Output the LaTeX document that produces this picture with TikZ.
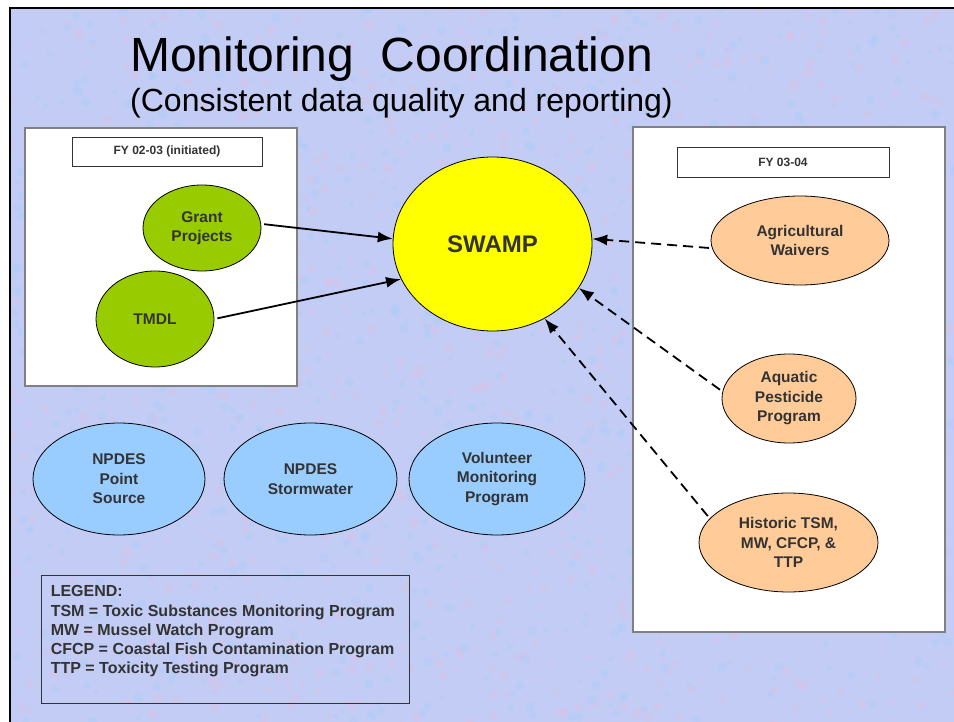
\documentclass[tikz,border=0pt]{standalone}
\usepackage{fontspec}
\setmainfont{Liberation Sans}
\usetikzlibrary{shapes.geometric,arrows.meta,positioning}

\definecolor{slide}{RGB}{194,204,244}
\definecolor{speckpink}{RGB}{226,190,228}
\definecolor{speckblue}{RGB}{170,205,250}
\definecolor{ink}{RGB}{51,51,51}
\definecolor{grantgreen}{RGB}{153,204,0}
\definecolor{swampyellow}{RGB}{255,255,0}
\definecolor{newpeach}{RGB}{255,204,153}
\definecolor{skyblue}{RGB}{153,204,255}

\tikzset{
  blob/.style={ellipse, draw=black, line width=0.8pt, inner sep=0pt,
    align=center, text=ink, font=\fontsize{15.5}{19.5}\selectfont\bfseries},
  yearbox/.style={draw=ink, line width=0.9pt, fill=white, inner sep=0pt,
    text=ink, font=\fontsize{12}{14}\selectfont\bfseries},
  feed/.style={line width=1.8pt, shorten <=3pt,
    -{Latex[length=15pt,width=11pt]}},
  later/.style={feed, dash pattern=on 10pt off 6pt}
}

\begin{document}
\begin{tikzpicture}[x=1pt, y=-1pt]
  \useasboundingbox (0,0) rectangle (954,722);
  \fill[white] (0,0) rectangle (954,722);
  \fill[slide] (10,8) rectangle (954,722);
  % speckled slide texture
  \pgfmathsetseed{7}
  \begin{scope}
    \clip (10,8) rectangle (954,722);
    \foreach \i in {1,...,900} {
      \pgfmathsetmacro{\px}{10+944*rnd}
      \pgfmathsetmacro{\py}{8+714*rnd}
      \fill[speckpink, opacity=0.35] (\px,\py) circle (2pt+3pt*rnd);
      \pgfmathsetmacro{\qx}{10+944*rnd}
      \pgfmathsetmacro{\qy}{8+714*rnd}
      \fill[speckblue, opacity=0.35] (\qx,\qy) circle (2pt+3pt*rnd);
    }
  \end{scope}
  \draw[line width=2.5pt] (10,722) -- (10,8) -- (954,8);

  % title
  \node[anchor=base west, inner sep=0pt, font=\fontsize{48}{56}\selectfont] (title)
    at (130,72) {Monitoring\ \ Coordination};
  \node[anchor=base west, inner sep=0pt, font=\fontsize{32}{36}\selectfont] (subtitle)
    at (130,112) {(Consistent data quality and reporting)};

  % year panels
  \node[draw=gray, line width=1.2pt, fill=white, minimum width=272pt,
    minimum height=258pt] (oldpanel) at (161,257) {};
  \node[draw=gray, line width=1.2pt, fill=white, minimum width=312pt,
    minimum height=505pt] (newpanel) at (789,379.5) {};
  \node[yearbox, minimum width=190pt, minimum height=29pt] (oldyear)
    at (167,151.5) {FY 02-03 (initiated)};
  \node[yearbox, minimum width=212pt, minimum height=30pt] (newyear)
    at (783,162) {FY 03-04};

  % programs
  \node[blob, fill=swampyellow, minimum width=199pt, minimum height=174pt,
    font=\fontsize{24}{28}\selectfont\bfseries] (swamp) at (492.5,244) {SWAMP};
  \node[blob, fill=grantgreen, minimum width=118pt, minimum height=86pt]
    (grant) at (202,228) {Grant\\Projects};
  \node[blob, fill=grantgreen, minimum width=118pt, minimum height=96pt]
    (tmdl) at (155,319) {TMDL};
  \node[blob, fill=newpeach, minimum width=178pt, minimum height=89pt]
    (agri) at (800,240.5) {Agricultural\\Waivers};
  \node[blob, fill=newpeach, minimum width=134pt, minimum height=89pt]
    (aquatic) at (789,398.5) {Aquatic\\Pesticide\\Program};
  \node[blob, fill=newpeach, minimum width=179pt, minimum height=99pt]
    (historic) at (788.5,542.5) {Historic TSM,\\MW, CFCP, \&\\TTP};
  \node[blob, fill=skyblue, minimum width=172pt, minimum height=112pt]
    (ptsrc) at (119,479) {NPDES\\Point\\Source};
  \node[blob, fill=skyblue, minimum width=173pt, minimum height=112pt]
    (storm) at (310.5,479) {NPDES\\Stormwater};
  \node[blob, fill=skyblue, minimum width=176pt, minimum height=112pt]
    (volunteer) at (497,479) {Volunteer\\Monitoring\\Program};

  % links into SWAMP
  \draw[feed] (grant.4) -- (swamp.177);
  \draw[feed] (tmdl.east) -- (swamp.201);
  \draw[later] (agri.185) -- (swamp.3);
  \draw[later] (aquatic.174) -- (swamp.333);
  \draw[later] (historic.163) -- (swamp.305);

  % legend
  \node[draw=ink, line width=0.9pt, minimum width=368pt, minimum height=128pt]
    (legendbox) at (225,639) {};
  \node[below right=11pt and 10pt of legendbox.north west, anchor=north west,
    inner sep=0pt, align=left, text=ink,
    font=\fontsize{16}{19.2}\selectfont\bfseries] (legendtext)
    {LEGEND:\\
     TSM = Toxic Substances Monitoring Program\\
     MW = Mussel Watch Program\\
     CFCP = Coastal Fish Contamination Program\\
     TTP = Toxicity Testing Program};
\end{tikzpicture}
\end{document}
